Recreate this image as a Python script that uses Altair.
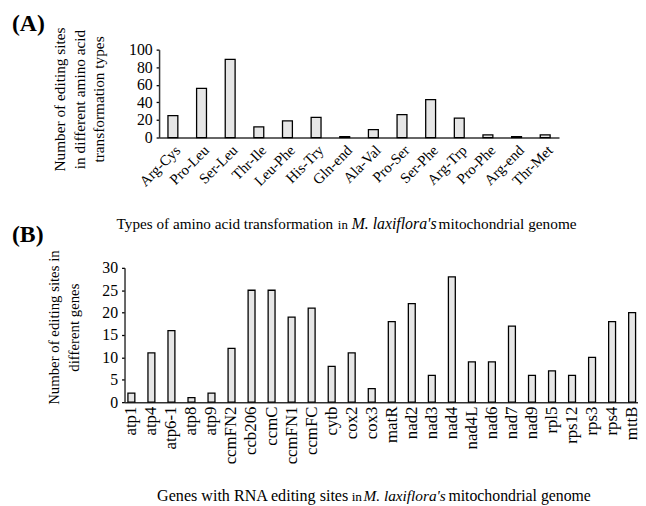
import altair as alt
import pandas as pd

# Panel A data
aa_types = ["Arg-Cys", "Pro-Leu", "Ser-Leu", "Thr-Ile", "Leu-Phe", "His-Try", "Gln-end",
            "Ala-Val", "Pro-Ser", "Ser-Phe", "Arg-Trp", "Pro-Phe", "Arg-end", "Thr-Met"]
aa_counts = [25, 56, 89, 12, 19, 23, 1, 9, 26, 43, 22, 3, 1, 3]

# Panel B data
genes = ["atp1", "atp4", "atp6-1", "atp8", "atp9", "ccmFN2", "ccb206", "ccmC", "ccmFN1", "ccmFC",
         "cytb", "cox2", "cox3", "matR", "nad2", "nad3", "nad4", "nad4L", "nad6", "nad7", "nad9",
         "rpl5", "rps12", "rps3", "rps4", "mttB"]
gene_counts = [2, 11, 16, 1, 2, 12, 25, 25, 19, 21, 8, 11, 3, 18, 22, 6, 28, 9, 9, 17, 6, 7, 6, 10, 18, 20]

dfA = pd.DataFrame({"type": aa_types, "count": aa_counts})
dfB = pd.DataFrame({"gene": genes, "count": gene_counts})

FONT = "Liberation Serif"
BAR_FILL = "#e6e6e6"

barA = alt.Chart(dfA).mark_bar(fill=BAR_FILL, stroke="black", strokeWidth=1.3).encode(
    x=alt.X("type:N", sort=aa_types,
            scale=alt.Scale(range=[153, 558], paddingInner=0.655, paddingOuter=0.31),
            axis=alt.Axis(orient="bottom", offset=-(498 - 128), title=None, labelAngle=-45,
                          labelFont=FONT, labelFontSize=15, labelColor="black", ticks=False,
                          labelPadding=5, domainColor="#333333", domainWidth=1.5)),
    y=alt.Y("count:Q", scale=alt.Scale(domain=[0, 100], range=[128, 39], nice=False),
            axis=alt.Axis(orient="left", offset=-153, values=[0, 20, 40, 60, 80, 100],
                          grid=False, tickSize=3, tickColor="black", tickWidth=1.3,
                          labelFont=FONT, labelFontSize=16, labelColor="black", labelPadding=4,
                          domainColor="#333333", domainWidth=1.5,
                          title=["Number of editing sites", "in different amino acid",
                                 "transformation types"],
                          titleFont=FONT, titleFontSize=15.5, titleFontWeight="normal",
                          titleColor="black", titleLineHeight=20,
                          titleX=-93, titleY=89, titleAngle=-90,
                          titleAlign="center", titleBaseline="bottom")),
)

barB = alt.Chart(dfB).mark_bar(fill=BAR_FILL, stroke="black", strokeWidth=1.3).encode(
    x=alt.X("gene:N", sort=genes,
            scale=alt.Scale(range=[118, 639], paddingInner=0.655, paddingOuter=0.17),
            axis=alt.Axis(orient="bottom", offset=-(498 - 396), title=None, labelAngle=-90,
                          labelFont=FONT, labelFontSize=17, labelColor="black", ticks=False,
                          labelPadding=4, domainColor="#333333", domainWidth=1.5)),
    y=alt.Y("count:Q", scale=alt.Scale(domain=[0, 30], range=[396, 260], nice=False),
            axis=alt.Axis(orient="left", offset=-118, values=[0, 5, 10, 15, 20, 25, 30],
                          grid=False, tickSize=3, tickColor="black", tickWidth=1.3,
                          labelFont=FONT, labelFontSize=16, labelColor="black", labelPadding=4,
                          domainColor="#333333", domainWidth=1.5,
                          title=["Number of editing sites in", "different genes"],
                          titleFont=FONT, titleFontSize=15, titleFontWeight="normal",
                          titleColor="black", titleLineHeight=20,
                          titleX=-64, titleY=320, titleAngle=-90,
                          titleAlign="center", titleBaseline="bottom")),
)

panelA = alt.Chart(pd.DataFrame({"t": ["(A)"]})).mark_text(
    font=FONT, fontSize=24, fontWeight="bold", align="left", baseline="alphabetic", color="black"
).encode(text="t:N", x=alt.value(4), y=alt.value(20))
panelB = alt.Chart(pd.DataFrame({"t": ["(B)"]})).mark_text(
    font=FONT, fontSize=24, fontWeight="bold", align="left", baseline="alphabetic", color="black"
).encode(text="t:N", x=alt.value(4), y=alt.value(234))


def piece(text, x, y, italic=False, size=15.5):
    return alt.Chart(pd.DataFrame({"t": [text]})).mark_text(
        font=FONT, fontSize=size, fontStyle="italic" if italic else "normal",
        align="left", baseline="alphabetic", color="black"
    ).encode(text="t:N", x=alt.value(x), y=alt.value(y))


titleA = [
    piece("Types of amino acid transformation", 110, 221, size=15.4),
    piece("in", 334, 221, size=13),
    piece("M. laxiflora's", 348, 221, italic=True, size=16),
    piece("mitochondrial genome", 436, 221),
]
titleB = [
    piece("Genes with RNA editing sites", 151, 496, size=16.3),
    piece("in", 348, 496, size=13.5),
    piece("M. laxiflora's", 360, 496, italic=True, size=15.5),
    piece("mitochondrial genome", 446, 496, size=16),
]

chart = alt.layer(barA, barB, panelA, panelB, *titleA, *titleB).resolve_scale(
    x="independent", y="independent"
).properties(
    width=638, height=498, autosize=alt.AutoSizeParams(type="none"), padding=0,
    background="white"
).configure_view(stroke=None).configure_axis(
    labelFont=FONT, titleFont=FONT
).configure_text(font=FONT)

chart.save("out.html", embed_options={"renderer": "svg", "actions": False})
